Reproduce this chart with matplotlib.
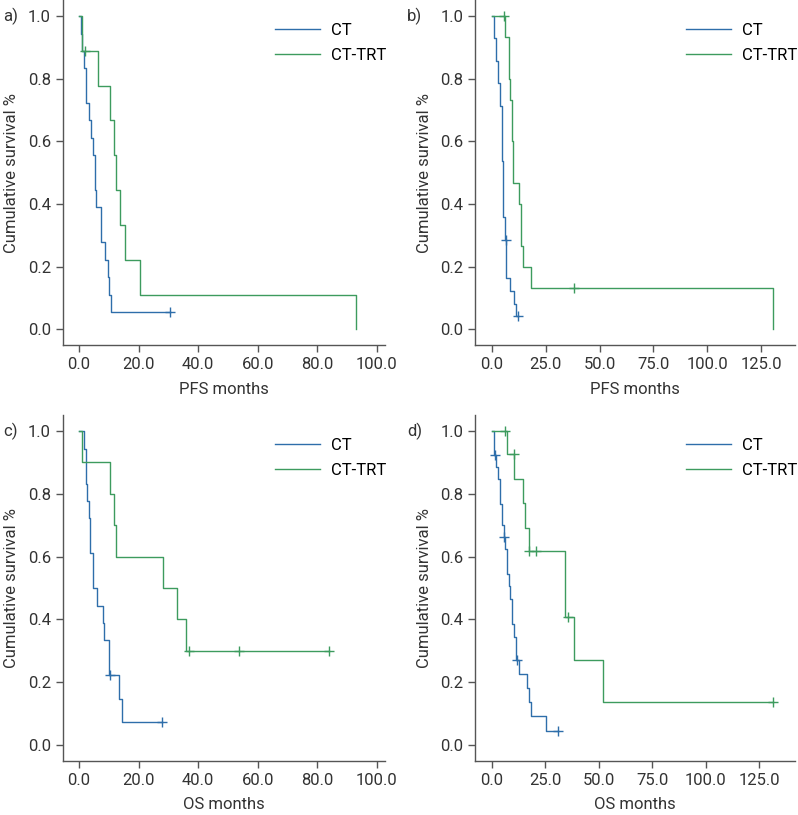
import matplotlib
matplotlib.use("Agg")
import matplotlib.pyplot as plt
from matplotlib.ticker import FormatStrFormatter

plt.rcParams['font.family'] = ['Roboto', 'DejaVu Sans']
plt.rcParams['font.size'] = 12

BLUE = "#2e6eaa"
GREEN = "#3d9b5e"
GREY = "#555555"

# a) PFS, months
a_ct_t = [0, 0.7, 0.9, 1.5, 2.2, 3.4, 4.0, 4.6, 5.2, 5.8, 7.4, 8.8, 9.6, 10.2, 10.7, 30.6]
a_ct_s = [1.0, 0.944, 0.889, 0.833, 0.722, 0.667, 0.611, 0.556, 0.444, 0.389, 0.278, 0.222, 0.167, 0.111, 0.056, 0.056]
a_ct_cens_t = [30.6]
a_ct_cens_s = [0.056]
a_trt_t = [0, 0.9, 6.2, 10.3, 11.7, 12.3, 13.9, 15.5, 20.6, 93.0]
a_trt_s = [1.0, 0.889, 0.778, 0.667, 0.556, 0.444, 0.333, 0.222, 0.111, 0.0]
a_trt_cens_t = [2.1]
a_trt_cens_s = [0.889]

# b) PFS, months
b_ct_t = [0, 1.2, 2.0, 2.8, 3.9, 4.8, 5.4, 6.0, 6.3, 6.7, 8.4, 10.4, 11.2, 12.3]
b_ct_s = [1.0, 0.929, 0.857, 0.786, 0.714, 0.536, 0.357, 0.321, 0.286, 0.163, 0.122, 0.082, 0.041, 0.041]
b_ct_cens_t = [6.5, 12.3]
b_ct_cens_s = [0.286, 0.041]
b_trt_t = [0, 6.0, 8.0, 8.5, 9.3, 9.7, 12.8, 13.6, 14.7, 18.2, 130.5]
b_trt_s = [1.0, 0.933, 0.8, 0.733, 0.6, 0.467, 0.4, 0.267, 0.2, 0.133, 0.0]
b_trt_cens_t = [5.7, 38.3]
b_trt_cens_s = [1.0, 0.133]

# c) OS, months
c_ct_t = [0, 1.55, 2.2, 2.7, 3.2, 3.8, 4.7, 6.0, 8.0, 8.5, 9.9, 13.3, 14.3, 27.8]
c_ct_s = [1.0, 0.944, 0.833, 0.778, 0.722, 0.611, 0.5, 0.444, 0.389, 0.333, 0.222, 0.148, 0.074, 0.074]
c_ct_cens_t = [10.3, 27.8]
c_ct_cens_s = [0.222, 0.074]
c_trt_t = [0, 1.0, 10.3, 11.8, 12.5, 28.3, 33.0, 36.0, 84.1]
c_trt_s = [1.0, 0.9, 0.8, 0.7, 0.6, 0.5, 0.4, 0.3, 0.3]
c_trt_cens_t = [37.0, 53.9, 84.1]
c_trt_cens_s = [0.3, 0.3, 0.3]

# d) OS, months
d_ct_t = [0, 1.0, 2.0, 3.1, 3.9, 4.8, 5.5, 6.4, 7.0, 7.9, 8.6, 9.3, 9.6, 10.6, 11.4, 12.8, 16.4, 17.6, 18.4, 25.4, 31.1]
d_ct_s = [1.0, 0.923, 0.885, 0.846, 0.769, 0.7, 0.662, 0.624, 0.544, 0.505, 0.466, 0.427, 0.387, 0.345, 0.272, 0.227, 0.182, 0.136, 0.091, 0.045, 0.045]
d_ct_cens_t = [1.6, 5.9, 12.0, 31.1]
d_ct_cens_s = [0.923, 0.662, 0.272, 0.045]
d_trt_t = [0, 7.0, 10.6, 14.8, 15.6, 17.2, 34.4, 38.5, 52.2, 131.4]
d_trt_s = [1.0, 0.928, 0.848, 0.772, 0.692, 0.619, 0.408, 0.272, 0.136, 0.136]
d_trt_cens_t = [6.2, 10.2, 17.6, 20.7, 35.8, 131.4]
d_trt_cens_s = [1.0, 0.928, 0.619, 0.619, 0.408, 0.136]

panels = [
    ("a)", "PFS months", (-5.5, 102.8), [0, 20, 40, 60, 80, 100],
     (a_ct_t, a_ct_s, a_ct_cens_t, a_ct_cens_s), (a_trt_t, a_trt_s, a_trt_cens_t, a_trt_cens_s)),
    ("b)", "PFS months", (-7.6, 140.6), [0, 25, 50, 75, 100, 125],
     (b_ct_t, b_ct_s, b_ct_cens_t, b_ct_cens_s), (b_trt_t, b_trt_s, b_trt_cens_t, b_trt_cens_s)),
    ("c)", "OS months", (-5.5, 102.8), [0, 20, 40, 60, 80, 100],
     (c_ct_t, c_ct_s, c_ct_cens_t, c_ct_cens_s), (c_trt_t, c_trt_s, c_trt_cens_t, c_trt_cens_s)),
    ("d)", "OS months", (-7.7, 141.7), [0, 25, 50, 75, 100, 125],
     (d_ct_t, d_ct_s, d_ct_cens_t, d_ct_cens_s), (d_trt_t, d_trt_s, d_trt_cens_t, d_trt_cens_s)),
]

W, H = 798, 815
boxes = [
    (62.7, 0.4, 385, 345),
    (475.3, 0.4, 795, 345),
    (62.7, 415.4, 385, 760.7),
    (475.3, 415.4, 795, 760.7),
]
tag_x = [3, 407, 3, 407]

fig = plt.figure(figsize=(W / 100, H / 100), dpi=100)

for (tag, xlabel, xlim, xticks, ct, trt), (x0, y0, x1, y1), tx in zip(panels, boxes, tag_x):
    ax = fig.add_axes([x0 / W, 1 - y1 / H, (x1 - x0) / W, (y1 - y0) / H])
    for (t, s, ct_t, ct_s), col, name in [(ct, BLUE, "CT"), (trt, GREEN, "CT-TRT")]:
        ax.step(t, s, where="post", color=col, lw=1.0, label=name)
        ax.plot(ct_t, ct_s, ls="none", marker="+", ms=7, mew=1.0, color=col)
    ax.set_xlim(*xlim)
    ax.set_ylim(-0.05, 1.05)
    ax.set_xticks(xticks)
    ax.set_yticks([0, 0.2, 0.4, 0.6, 0.8, 1.0])
    ax.xaxis.set_major_formatter(FormatStrFormatter("%.1f"))
    ax.yaxis.set_major_formatter(FormatStrFormatter("%.1f"))
    for side in ["top", "right"]:
        ax.spines[side].set_visible(False)
    for side in ["left", "bottom"]:
        ax.spines[side].set_color(GREY)
        ax.spines[side].set_linewidth(1.0)
    ax.tick_params(colors=GREY, labelcolor="#333333", length=5, width=1.0, labelsize=12)
    ax.set_xlabel(xlabel, fontsize=12, color="#333333", labelpad=7)
    ax.set_ylabel("Cumulative survival %", fontsize=12, color="#333333", labelpad=6)
    ax.legend(loc="upper left", bbox_to_anchor=(0.659, 0.935), frameon=False,
              borderaxespad=0, borderpad=0, handlelength=2.7, fontsize=12,
              labelspacing=0.6, handletextpad=0.66)
    ax.text(tx / W, 1 - (y0 + 16) / H, tag, transform=fig.transFigure,
            fontsize=12, color="#333333", va="center", ha="left")

fig.savefig("out.png", dpi=100)
